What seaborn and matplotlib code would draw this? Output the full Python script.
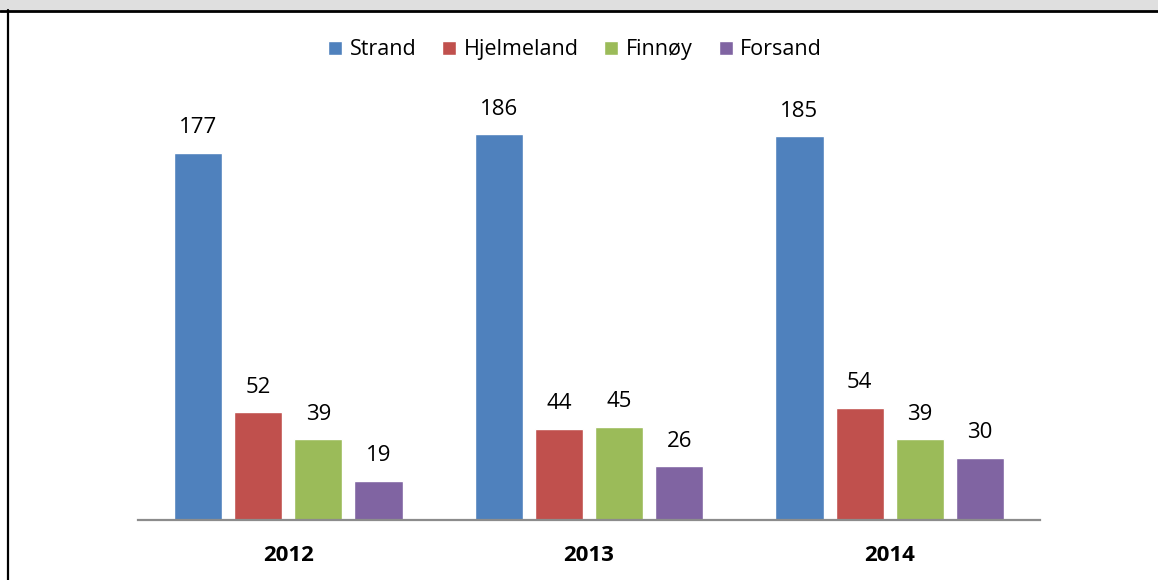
import pandas as pd
import matplotlib.pyplot as plt
import seaborn as sns
from matplotlib.patches import Rectangle
from matplotlib.lines import Line2D

years = ["2012", "2013", "2014"]
kommuner = ["Strand", "Hjelmeland", "Finnøy", "Forsand"]
strand = [177, 186, 185]
hjelmeland = [52, 44, 54]
finnoy = [39, 45, 39]
forsand = [19, 26, 30]
farger = ["#4F81BD", "#C0504D", "#9BBB59", "#8064A2"]

# long format for seaborn
rows = []
for k, verdier in zip(kommuner, [strand, hjelmeland, finnoy, forsand]):
    for aar, v in zip(years, verdier):
        rows.append({"Aar": aar, "Kommune": k, "Antall": v})
df = pd.DataFrame(rows)

sns.set_style("white")
plt.rcParams["font.family"] = ["Open Sans", "DejaVu Sans"]
plt.rcParams["text.color"] = "black"
plt.rcParams["xtick.color"] = "black"

fig = plt.figure(figsize=(11.58, 5.8), dpi=100)
ax = fig.add_axes([138 / 1158, 60 / 580, (1040 - 138) / 1158, 420 / 580])

sns.barplot(data=df, x="Aar", y="Antall", hue="Kommune", order=years,
            hue_order=kommuner, palette=farger, width=0.8, gap=0.2,
            saturation=1, ax=ax)

for c in ax.containers:
    ax.bar_label(c, padding=10.5, fontsize=16, color="black")

ax.set_ylim(0, 202.6)
ax.set_xlim(-0.5, 2.5)
ax.set_xlabel("")
ax.set_ylabel("")
ax.set_yticks([])
ax.tick_params(axis="x", length=0, pad=18, labelsize=16, labelcolor="black")
for t in ax.get_xticklabels():
    t.set_fontweight("bold")
for s in ["top", "right", "left"]:
    ax.spines[s].set_visible(False)
ax.spines["bottom"].set_color("#8c8c8c")
ax.spines["bottom"].set_linewidth(1.6)

handles, labels = ax.get_legend_handles_labels()
ax.legend(handles, labels, loc="center", bbox_to_anchor=(0.4965, 0.914),
          bbox_transform=fig.transFigure, ncol=4, frameon=False,
          fontsize=15.5, handlelength=0.65, handleheight=0.65,
          handletextpad=0.35, columnspacing=1.2, labelcolor="black")

# ramme rundt figuren
fig.patches.append(Rectangle((0, 1 - 10 / 580), 1, 10 / 580, color="#dfdfdf",
                             transform=fig.transFigure, zorder=0))
fig.lines.append(Line2D([0, 1], [1 - 11 / 580, 1 - 11 / 580], color="black",
                        lw=2, transform=fig.transFigure))
fig.lines.append(Line2D([8 / 1158, 8 / 1158], [0, 1 - 10 / 580], color="black",
                        lw=1.6, transform=fig.transFigure))

fig.savefig("out.png", dpi=100)
